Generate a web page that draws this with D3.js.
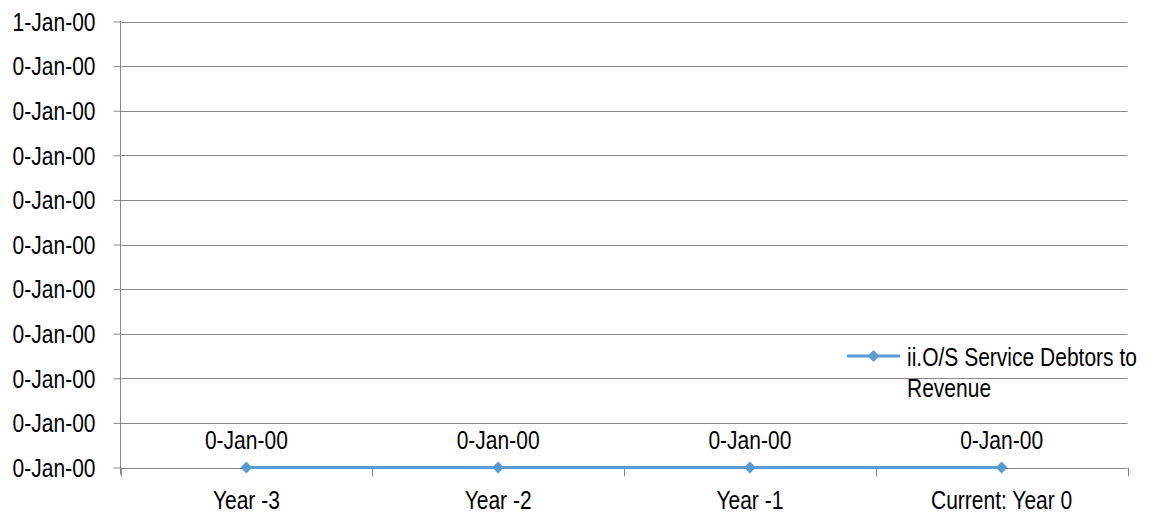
<!DOCTYPE html>
<html>
<head>
<meta charset="utf-8">
<script src="https://cdn.jsdelivr.net/npm/d3@7"></script>
<style>
  html, body { margin: 0; padding: 0; background: #fff; }
  svg text { font-family: "Liberation Sans Narrow", "Arial Narrow", "Liberation Sans", Arial, sans-serif; font-size: 25px; fill: #000; }
</style>
</head>
<body>
<svg id="chart" width="1154" height="517"></svg>
<script>
const categories = ["Year -3", "Year -2", "Year -1", "Current: Year 0"];
const seriesName = "ii.O/S Service Debtors to Revenue";
const seriesValues = [0, 0, 0, 0];
const pointLabels = ["0-Jan-00", "0-Jan-00", "0-Jan-00", "0-Jan-00"];
const yTickValues = [0, 0.1, 0.2, 0.3, 0.4, 0.5, 0.6, 0.7, 0.8, 0.9, 1.0];
const yTickLabels = ["0-Jan-00", "0-Jan-00", "0-Jan-00", "0-Jan-00", "0-Jan-00", "0-Jan-00", "0-Jan-00", "0-Jan-00", "0-Jan-00", "0-Jan-00", "1-Jan-00"];
const legendLines = ["ii.O/S Service Debtors to", "Revenue"];

const svg = d3.select("#chart");
const plotLeft = 120.5, plotRight = 1127.5, plotTop = 21.5, plotBottom = 467.5;
const gridColor = "#898989";
const lineColor = "#5B9BD5";
const narrow = 0.84;

const x = d3.scaleBand().domain(categories).range([plotLeft, plotRight]).padding(0);
const y = d3.scaleLinear().domain([0, 1]).range([plotBottom, plotTop]);

// gridlines
svg.append("g").selectAll("line").data(yTickValues).join("line")
  .attr("x1", plotLeft).attr("x2", plotRight)
  .attr("y1", d => Math.round(y(d)) + 0.5).attr("y2", d => Math.round(y(d)) + 0.5)
  .attr("stroke", gridColor).attr("stroke-width", 1);

// y axis
const yAxis = d3.axisLeft(y).tickValues(yTickValues)
  .tickFormat((d, i) => yTickLabels[i]).tickSize(7).tickPadding(25);
const gy = svg.append("g").attr("transform", `translate(${plotLeft},0)`).call(yAxis);
gy.attr("font-family", null).attr("font-size", null);
gy.select(".domain").attr("stroke", gridColor).attr("d", `M0,${plotTop - 0.5}V${plotBottom + 7}`);
gy.selectAll(".tick line").attr("stroke", gridColor).attr("x1", -7).attr("x2", 0);
gy.selectAll(".tick text").attr("x", -25).attr("dy", "0.35em");

// x axis
const boundaries = categories.map(c => x(c)).concat([plotRight]);
svg.append("g").selectAll("line").data(boundaries).join("line")
  .attr("x1", d => Math.round(d) + 0.5).attr("x2", d => Math.round(d) + 0.5)
  .attr("y1", plotBottom).attr("y2", plotBottom + 9)
  .attr("stroke", gridColor).attr("stroke-width", 1);
svg.append("g").selectAll("text").data(categories).join("text")
  .attr("x", d => x(d) + x.bandwidth() / 2)
  .attr("y", plotBottom + 33)
  .attr("dy", "0.35em")
  .attr("text-anchor", "middle")
  .text(d => d);

// series line
const cx = (d, i) => x(categories[i]) + x.bandwidth() / 2;
const line = d3.line().x((d, i) => cx(d, i)).y(d => y(d));
svg.append("path").datum(seriesValues)
  .attr("d", line).attr("fill", "none")
  .attr("stroke", lineColor).attr("stroke-width", 3);

const diamond = d3.symbol().type(d3.symbolDiamond2).size(90);
svg.append("g").selectAll("path").data(seriesValues).join("path")
  .attr("d", diamond)
  .attr("transform", (d, i) => `translate(${cx(d, i)},${y(d)})`)
  .attr("fill", lineColor);

// data labels
svg.append("g").selectAll("text").data(seriesValues).join("text")
  .attr("x", (d, i) => cx(d, i))
  .attr("y", d => y(d) - 27)
  .attr("dy", "0.35em")
  .attr("text-anchor", "middle")
  .text((d, i) => pointLabels[i]);

// legend
const lg = svg.append("g");
lg.append("line").attr("x1", 847).attr("x2", 900).attr("y1", 356).attr("y2", 356)
  .attr("stroke", lineColor).attr("stroke-width", 3);
lg.append("path").attr("d", diamond).attr("transform", "translate(873.5,356)").attr("fill", lineColor);
lg.selectAll("text").data(legendLines).join("text")
  .attr("x", 907).attr("y", (d, i) => 357 + i * 31)
  .attr("dy", "0.35em")
  .text(d => d);

// condense text to emulate a narrow face
svg.selectAll("text").each(function() {
  const w = this.getComputedTextLength();
  d3.select(this).attr("textLength", w * narrow).attr("lengthAdjust", "spacingAndGlyphs");
});
</script>
</body>
</html>
